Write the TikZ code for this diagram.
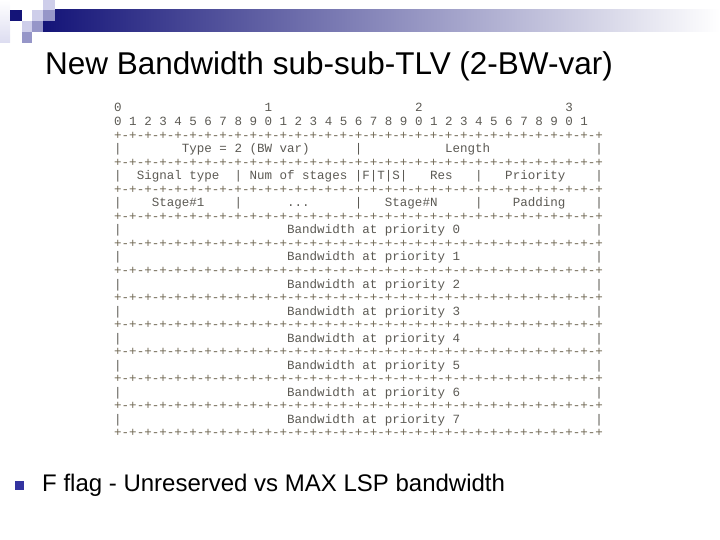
\documentclass[tikz,border=0pt]{standalone}
\usepackage{fontspec}
\setmainfont{Liberation Sans}
\newfontfamily\asciifont{Liberation Mono}
\usetikzlibrary{positioning}

\definecolor{navy}{RGB}{20,20,120}
\definecolor{lilac}{RGB}{206,206,234}
\definecolor{midlilac}{RGB}{150,150,200}
\definecolor{asciigray}{RGB}{92,90,84}
\definecolor{sepgray}{RGB}{112,104,84}
\definecolor{bulletblue}{RGB}{51,51,160}

\newcommand{\cw}{7.52}
\newcommand{\sepline}{+-+-+-+-+-+-+-+-+-+-+-+-+-+-+-+-+-+-+-+-+-+-+-+-+-+-+-+-+-+-+-+-+}
\newcommand{\field}[5][ascii]{\node[#1] (#2) at ({114+\cw*#3},{112+13.54*#4}) {#5};}

\begin{document}
\begin{tikzpicture}[x=1bp,y=-1bp,
  ascii/.style={anchor=base west,inner sep=0pt,text=asciigray,
    font=\asciifont\fontsize{12.53bp}{14bp}\selectfont},
  sepline/.style={ascii,text=sepgray}]
  \useasboundingbox (0,0) rectangle (720,540);

  % Header bar with squares
  \shade[left color=navy,right color=white] (43,10) rectangle (720,32);
  \shade[top color=white,bottom color=lilac!70] (0,0) rectangle (10,43);
  \fill[navy] (10,10) rectangle (22,21);
  \fill[lilac] (32,10) rectangle (43,21);
  \fill[lilac] (43,0) rectangle (55,10);
  \fill[midlilac] (43,10) rectangle (55,21);
  \fill[lilac] (22,21) rectangle (32,32);
  \fill[midlilac] (32,21) rectangle (43,32);
  \fill[midlilac] (22,32) rectangle (32,43);

  % Title
  \node[anchor=base west,inner sep=0pt,font=\fontsize{31.5bp}{38bp}\selectfont]
    (title) at (45,75) {New Bandwidth sub-sub-TLV (2-BW-var)};

  % Bit numbers
  \foreach \t in {0,...,3} {\field{tens\t}{20*\t}{0}{\t}}
  \foreach \b in {0,...,31} {
    \pgfmathtruncatemacro{\u}{mod(\b,10)}
    \field{bit\b}{2*\b}{1}{\u}
  }

  % Separator lines
  \foreach \r in {2,4,...,24} {\field[sepline]{sep\r}{0}{\r}{\sepline}}

  % Type / Length
  \foreach \c in {0,32,64} {\field{barA\c}{\c}{3}{|}}
  \field{type}{9}{3}{Type = 2 (BW var)}
  \field{length}{44}{3}{Length}

  % Signal type, stages, flags
  \foreach \c in {0,16,32,34,36,38,48,64} {\field{barB\c}{\c}{5}{|}}
  \field{signal}{3}{5}{Signal type}
  \field{numstages}{18}{5}{Num of stages}
  \field{flagF}{33}{5}{F}
  \field{flagT}{35}{5}{T}
  \field{flagS}{37}{5}{S}
  \field{res}{42}{5}{Res}
  \field{priority}{52}{5}{Priority}

  % Stages
  \foreach \c in {0,16,32,48,64} {\field{barC\c}{\c}{7}{|}}
  \field{stageone}{5}{7}{Stage\#1}
  \field{dots}{23}{7}{...}
  \field{stagen}{36}{7}{Stage\#N}
  \field{padding}{53}{7}{Padding}

  % Bandwidth per priority
  \foreach \p in {0,...,7} {
    \pgfmathtruncatemacro{\r}{9+2*\p}
    \field{bw\p}{23}{\r}{Bandwidth at priority \p}
    \foreach \c in {0,64} {\field{barD\r-\c}{\c}{\r}{|}}
  }

  % Bullet
  \node[fill=bulletblue,inner sep=0pt,minimum size=9bp] (bullet) at (19.5,485.5) {};
  \node[anchor=base west,inner sep=0pt,font=\fontsize{24bp}{29bp}\selectfont]
    (point) at (42,491) {F flag - Unreserved vs MAX LSP bandwidth};
\end{tikzpicture}
\end{document}
